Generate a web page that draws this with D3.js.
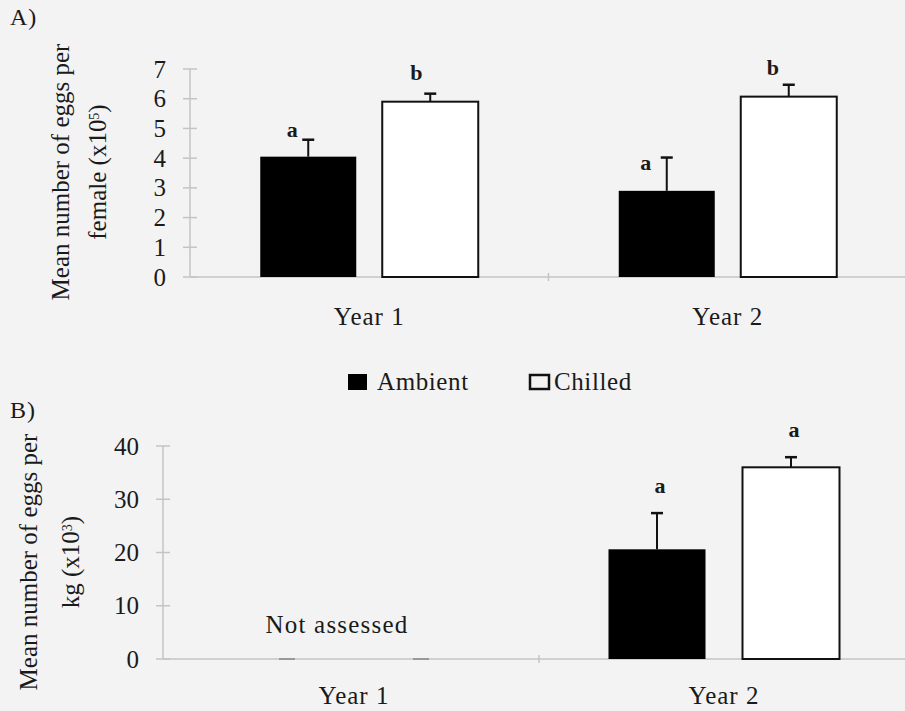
<!DOCTYPE html>
<html lang="en">
<head>
  <meta charset="utf-8" />
  <title>Eggs per female / per kg - Ambient vs Chilled</title>
  <script src="https://d3js.org/d3.v7.min.js"></script>
  <style>
    html, body {
      margin: 0;
      padding: 0;
      background: #f3f3f3;
      overflow: hidden;
    }
    svg text {
      font-family: "Liberation Serif", "Times New Roman", serif;
      fill: #1a1a1a;
    }
    .axis-line { stroke: #c4c4c4; stroke-width: 1.5px; }
  </style>
</head>
<body>
<script>
/* data */
const years = ["Year 1", "Year 2"];
const treatments = ["Ambient", "Chilled"];

// panel A: mean eggs per female (x10^5)
const femaleAmbient = [4.05, 2.9];
const femaleAmbientErr = [0.57, 1.12];
const femaleChilled = [5.9, 6.07];
const femaleChilledErr = [0.27, 0.4];
const femaleLettersAmbient = ["a", "a"];
const femaleLettersChilled = ["b", "b"];
const femaleTicks = [0, 1, 2, 3, 4, 5, 6, 7];

// panel B: mean eggs per kg (x10^3); year 1 not assessed
const kgAmbient = [0, 20.6];
const kgAmbientErr = [0, 6.8];
const kgChilled = [0, 36.0];
const kgChilledErr = [0, 1.9];
const kgLettersAmbient = [null, "a"];
const kgLettersChilled = [null, "a"];
const kgTicks = [0, 10, 20, 30, 40];
const kgNote = ["Not assessed", null];

const width = 905, height = 711;

const svg = d3.select("body").append("svg")
  .attr("width", width)
  .attr("height", height);

function panel(opt) {
  const g = svg.append("g");
  const y = d3.scaleLinear().domain(opt.yDomain).range(opt.yRange);
  const x = d3.scaleBand().domain(years).range(opt.xRange);

  // y axis line + crossing ticks
  g.append("line").attr("class", "axis-line")
    .attr("x1", opt.axisX).attr("x2", opt.axisX)
    .attr("y1", y(opt.yDomain[0])).attr("y2", y(opt.yDomain[1]));
  g.selectAll(".ytick").data(opt.ticks).enter().append("line")
    .attr("class", "axis-line")
    .attr("x1", opt.axisX - 7).attr("x2", opt.axisX + 7)
    .attr("y1", d => y(d)).attr("y2", d => y(d));
  g.selectAll(".ylab").data(opt.ticks).enter().append("text")
    .attr("x", opt.axisX - 24)
    .attr("y", d => y(d))
    .attr("dy", "0.34em")
    .attr("text-anchor", "end")
    .style("font-size", "25px")
    .text(d => d);

  // baseline with a small mark between categories
  g.append("line").attr("class", "axis-line")
    .attr("x1", opt.axisX).attr("x2", width)
    .attr("y1", y(0)).attr("y2", y(0));
  g.append("line").attr("class", "axis-line")
    .attr("x1", x(years[1])).attr("x2", x(years[1]))
    .attr("y1", y(0) - 4).attr("y2", y(0) + 4);

  // category labels
  g.selectAll(".xlab").data(years).enter().append("text")
    .attr("x", d => x(d) + x.bandwidth() / 2)
    .attr("y", opt.yearY)
    .attr("text-anchor", "middle")
    .style("font-size", "25px")
    .style("letter-spacing", "1px")
    .text(d => d);

  const series = [
    { name: treatments[0], vals: opt.ambient, err: opt.ambientErr, letters: opt.lettersAmbient, side: -1 },
    { name: treatments[1], vals: opt.chilled, err: opt.chilledErr, letters: opt.lettersChilled, side: 1 }
  ];

  series.forEach((s, si) => {
    years.forEach((yr, i) => {
      const cx = x(yr) + x.bandwidth() / 2 + s.side * opt.offset;
      const v = s.vals[i];
      if (v === 0) {
        // not assessed: just a short dash at zero
        g.append("line")
          .attr("x1", cx - 8).attr("x2", cx + 8)
          .attr("y1", y(0)).attr("y2", y(0))
          .attr("stroke", "#999").attr("stroke-width", 2);
        return;
      }
      g.append("rect")
        .attr("x", cx - opt.barW / 2)
        .attr("y", y(v))
        .attr("width", opt.barW)
        .attr("height", y(0) - y(v))
        .attr("fill", si === 0 ? "#000" : "#fff")
        .attr("stroke", "#111")
        .attr("stroke-width", si === 0 ? 0 : 2);
      const top = y(v + s.err[i]);
      g.append("line")
        .attr("x1", cx).attr("x2", cx)
        .attr("y1", y(v)).attr("y2", top)
        .attr("stroke", "#111").attr("stroke-width", 2);
      g.append("line")
        .attr("x1", cx - 6).attr("x2", cx + 6)
        .attr("y1", top).attr("y2", top)
        .attr("stroke", "#111").attr("stroke-width", 2.5);
      if (s.letters[i]) {
        const n = opt.letterNudge[si][i];
        g.append("text")
          .attr("x", cx + n[0])
          .attr("y", top + n[1])
          .attr("text-anchor", "middle")
          .style("font-size", "22px")
          .style("font-weight", "bold")
          .text(s.letters[i]);
      }
    });
  });

  // notes (e.g. not assessed)
  opt.notes.forEach((t, i) => {
    if (!t) return;
    g.append("text")
      .attr("x", x(years[i]) + x.bandwidth() / 2 - 17)
      .attr("y", opt.noteY)
      .attr("text-anchor", "middle")
      .style("font-size", "25px")
      .style("letter-spacing", "1.2px")
      .text(t);
  });

  // y title, two rotated lines
  g.append("text")
    .attr("transform", `translate(${opt.titleX[0]},${opt.titleY}) rotate(-90)`)
    .attr("text-anchor", "middle")
    .attr("dy", "0.35em")
    .style("font-size", "25px")
    .text(opt.title1);
  const t2 = g.append("text")
    .attr("transform", `translate(${opt.titleX[1]},${opt.titleY}) rotate(-90)`)
    .attr("text-anchor", "middle")
    .attr("dy", "0.35em")
    .style("font-size", "25px");
  t2.append("tspan").text(opt.title2);
  t2.append("tspan").attr("baseline-shift", "super").style("font-size", "14px").text(opt.sup);
  t2.append("tspan").text(")");

  // panel letter
  svg.append("text")
    .attr("x", 10).attr("y", opt.labelY)
    .style("font-size", "24px")
    .style("letter-spacing", "1px")
    .text(opt.label);
}

panel({
  label: "A)", labelY: 25,
  yDomain: [0, 7], yRange: [277, 69], ticks: femaleTicks,
  xRange: [190, 907], axisX: 190, offset: 61, barW: 96,
  ambient: femaleAmbient, ambientErr: femaleAmbientErr,
  chilled: femaleChilled, chilledErr: femaleChilledErr,
  lettersAmbient: femaleLettersAmbient, lettersChilled: femaleLettersChilled,
  letterNudge: [[[-16, -3], [-21, 12]], [[-14, -14], [-16, -10]]],
  notes: [null, null], noteY: 0,
  yearY: 325,
  title1: "Mean number of eggs per", title2: "female (x10", sup: "5",
  titleX: [60, 97], titleY: 172
});

panel({
  label: "B)", labelY: 418,
  yDomain: [0, 40], yRange: [659, 446], ticks: kgTicks,
  xRange: [169, 909], axisX: 163, offset: 67, barW: 97,
  ambient: kgAmbient, ambientErr: kgAmbientErr,
  chilled: kgChilled, chilledErr: kgChilledErr,
  lettersAmbient: kgLettersAmbient, lettersChilled: kgLettersChilled,
  letterNudge: [[[0, 0], [3, -20]], [[0, 0], [3, -20]]],
  notes: kgNote, noteY: 633,
  yearY: 704,
  title1: "Mean number of eggs per", title2: "kg (x10", sup: "3",
  titleX: [28, 70], titleY: 562
});

// legend
const legend = svg.append("g");
const legendX = [348, 529];
treatments.forEach((t, i) => {
  legend.append("rect")
    .attr("x", legendX[i] + (i ? 1 : 0)).attr("y", 374 + (i ? 1 : 0))
    .attr("width", i ? 19 : 19).attr("height", i ? 14 : 16)
    .attr("fill", i ? "none" : "#000")
    .attr("stroke", "#111").attr("stroke-width", i ? 2.5 : 0);
  legend.append("text")
    .attr("x", legendX[i] + (i ? 25 : 29)).attr("y", 390)
    .style("font-size", "25px")
    .style("letter-spacing", "0.6px")
    .text(t);
});
</script>
</body>
</html>
